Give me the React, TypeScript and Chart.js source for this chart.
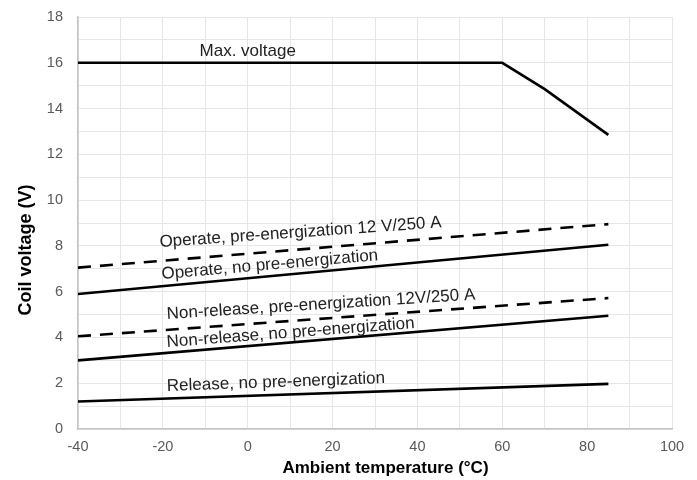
import React, { useEffect, useRef } from "react";
import { Chart, registerables } from "chart.js";

Chart.register(...registerables);

// ---- data ----
const maxTemps = [-40, 60, 70, 85];
const maxVoltage = [16, 16, 14.85, 12.85];

const lineTemps = [-40, 85];
const operatePre = [7.05, 8.95];
const operateNo = [5.9, 8.05];
const nonReleasePre = [4.05, 5.72];
const nonReleaseNo = [3.0, 4.95];
const releaseNo = [1.2, 1.97];

const xTickLabels = [-40, -20, 0, 20, 40, 60, 80, 100];
const yTickLabels = [0, 2, 4, 6, 8, 10, 12, 14, 16, 18];

const labelTexts = [
  "Max. voltage",
  "Operate, pre-energization 12 V/250 A",
  "Operate, no pre-energization",
  "Non-release, pre-energization 12V/250 A",
  "Non-release, no pre-energization",
  "Release, no pre-energization",
];
// anchors in data coordinates (temperature, voltage), rotation in degrees, alignment
const labelAnchorsX = [0, -20.7, -20.2, -19.0, -19.0, -19.0];
const labelAnchorsY = [16.3, 7.95, 6.55, 4.81, 3.58, 1.66];
const labelAngles = [0, 4.0, 5.0, 3.6, 4.4, 2.1];
const labelAligns: CanvasTextAlign[] = ["center", "left", "left", "left", "left", "left"];

const xTitle = "Ambient temperature (°C)";
const yTitle = "Coil voltage (V)";

const FONT = "'Liberation Sans', Arial, sans-serif";

const toXY = (xs: number[], ys: number[]) => xs.map((x, i) => ({ x, y: ys[i] }));

const curveLabels = {
  id: "curveLabels",
  afterDatasetsDraw(chart: any) {
    const { ctx, scales } = chart;
    ctx.save();
    ctx.font = `17px ${FONT}`;
    ctx.fillStyle = "#222222";
    ctx.textBaseline = "alphabetic";
    labelTexts.forEach((t, i) => {
      const px = scales.x.getPixelForValue(labelAnchorsX[i]);
      const py = scales.y.getPixelForValue(labelAnchorsY[i]);
      ctx.save();
      ctx.translate(px, py);
      ctx.rotate((-labelAngles[i] * Math.PI) / 180);
      ctx.textAlign = labelAligns[i];
      ctx.fillText(t, 0, 0);
      ctx.restore();
    });
    // axis titles (offset from the axis centre as in the reference)
    ctx.font = `bold 17px ${FONT}`;
    ctx.fillStyle = "#000000";
    ctx.textAlign = "center";
    ctx.textBaseline = "alphabetic";
    ctx.fillText(xTitle, 385.5, 473);
    ctx.font = `bold 18px ${FONT}`;
    ctx.translate(31, 250);
    ctx.rotate(-Math.PI / 2);
    ctx.fillText(yTitle, 0, 0);
    ctx.restore();
  },
};

export default function App() {
  const canvasRef = useRef<HTMLCanvasElement | null>(null);

  useEffect(() => {
    if (!canvasRef.current) return;
    const lineDs = (data: any, dashed: boolean) => ({
      data,
      borderColor: "#000000",
      borderWidth: 2.6,
      borderDash: dashed ? [13, 9] : [],
      pointRadius: 0,
      fill: false,
      tension: 0,
    });
    const chart = new Chart(canvasRef.current, {
      type: "line",
      data: {
        datasets: [
          lineDs(toXY(maxTemps, maxVoltage), false),
          lineDs(toXY(lineTemps, operatePre), true),
          lineDs(toXY(lineTemps, operateNo), false),
          lineDs(toXY(lineTemps, nonReleasePre), true),
          lineDs(toXY(lineTemps, nonReleaseNo), false),
          lineDs(toXY(lineTemps, releaseNo), false),
        ],
      },
      options: {
        animation: false,
        responsive: false,
        maintainAspectRatio: false,
        layout: { padding: { left: 0, right: 25, top: 17, bottom: 0 } },
        plugins: { legend: { display: false }, tooltip: { enabled: false } },
        scales: {
          x: {
            type: "linear",
            min: -40,
            max: 100,
            afterFit: (s: any) => {
              s.height = 51;
            },
            ticks: {
              stepSize: 10,
              autoSkip: false,
              maxRotation: 0,
              padding: 9,
              color: "#595959",
              font: { family: FONT, size: 14.5 },
              callback: (v: any) => (xTickLabels.includes(Number(v)) ? String(v) : ""),
            },
            grid: { color: "#e6e6e6", lineWidth: 1, drawTicks: false },
            border: { color: "#c4c4c4", width: 1.5 },
            title: { display: false },
          },
          y: {
            type: "linear",
            min: 0,
            max: 18,
            afterFit: (s: any) => {
              s.width = 78;
              s.paddingTop = 0;
              s.paddingBottom = 0;
            },
            ticks: {
              stepSize: 1,
              autoSkip: false,
              padding: 15,
              color: "#595959",
              font: { family: FONT, size: 14.5 },
              callback: (v: any) => (yTickLabels.includes(Number(v)) ? String(v) : ""),
            },
            grid: { color: "#e6e6e6", lineWidth: 1, drawTicks: false },
            border: { color: "#c4c4c4", width: 1.5 },
            title: { display: false },
          },
        },
      },
      plugins: [curveLabels],
    });
    return () => chart.destroy();
  }, []);

  return (
    <div style={{ position: "absolute", left: 0, top: 0, width: 697, height: 480, background: "#ffffff" }}>
      <canvas ref={canvasRef} width={697} height={480} style={{ width: 697, height: 480 }} />
    </div>
  );
}
